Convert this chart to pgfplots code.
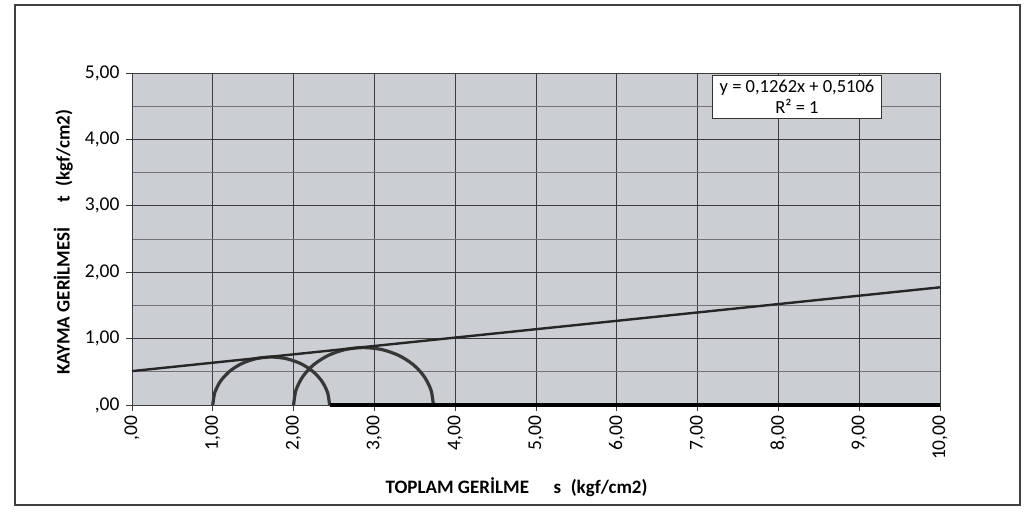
\documentclass[border=0pt]{standalone}
\usepackage{fontspec}
\setmainfont{Carlito}
\usepackage{pgfplots}
\pgfplotsset{compat=1.18}
\definecolor{bgplot}{RGB}{203,207,212}
\definecolor{gridmaj}{RGB}{60,60,60}
\definecolor{gridmin}{RGB}{115,115,115}
\definecolor{curve}{RGB}{55,55,55}
\begin{document}
\begin{tikzpicture}
\path[use as bounding box] (0pt,0pt) rectangle (1025pt,-515pt);
\draw[line width=1.2pt, black!75] (15pt,-5pt) rectangle (1020pt,-505pt);
\begin{axis}[
  at={(132pt,-405pt)}, anchor=south west,
  scale only axis, width=808pt, height=332pt,
  xmin=0, xmax=10, ymin=0, ymax=5,
  clip=false,
  axis background/.style={fill=bgplot},
  axis line style={gridmaj, line width=0.9pt},
  xtick={0,1,2,3,4,5,6,7,8,9,10},
  xticklabels={{,00},{1,00},{2,00},{3,00},{4,00},{5,00},{6,00},{7,00},{8,00},{9,00},{10,00}},
  ytick={0,1,2,3,4,5},
  yticklabels={{,00},{1,00},{2,00},{3,00},{4,00},{5,00}},
  minor ytick={0.5,1.5,2.5,3.5,4.5},
  xtick pos=bottom, ytick pos=left,
  tick align=outside,
  major tick length=6pt, minor tick length=0pt,
  tick style={gridmaj, line width=0.9pt},
  grid=both,
  major grid style={gridmaj, line width=1pt},
  minor grid style={gridmin, line width=0.7pt},
  x tick label style={rotate=90, anchor=east, yshift=0pt, xshift=-1pt, font=\fontsize{19.5}{19.5}\selectfont},
  y tick label style={xshift=-3pt, font=\fontsize{19.5}{19.5}\selectfont},
  xlabel={\bfseries TOPLAM GERİLME\hspace{1.3em}s\hspace{0.5em}(kgf/cm2)},
  xlabel style={at={(axis description cs:0.476,-0.247)}, anchor=center, font=\fontsize{19}{22}\selectfont},
  ylabel={\bfseries KAYMA GERİLMESİ\hspace{1.3em}t\hspace{0.5em}(kgf/cm2)},
  ylabel style={at={(axis description cs:-0.085,0.49)}, anchor=center, font=\fontsize{19}{22}\selectfont},
]
\addplot[curve, line width=3.2pt, smooth] coordinates {
 (1.0000,0) (1.0246,0.1870) (1.0968,0.3613) (1.2116,0.5110) (1.3613,0.6258)
 (1.5356,0.6980) (1.7226,0.7226) (1.9096,0.6980) (2.0839,0.6258) (2.2336,0.5110)
 (2.3484,0.3613) (2.4206,0.1870) (2.4452,0)};
\addplot[curve, line width=3.2pt, smooth] coordinates {
 (2.0000,0) (2.0295,0.2239) (2.1159,0.4325) (2.2534,0.6116) (2.4325,0.7491)
 (2.6411,0.8355) (2.8650,0.8650) (3.0889,0.8355) (3.2975,0.7491) (3.4766,0.6116)
 (3.6141,0.4325) (3.7005,0.2239) (3.7300,0)};
\addplot[black, line width=4pt] coordinates {(2.4452,0) (10,0)};
\addplot[black!85, line width=2.4pt] coordinates {(0,0.5106) (10,1.7726)};
\node[draw=black!80, fill=white, line width=0.9pt, align=center,
      font=\fontsize{18.5}{21}\selectfont, inner xsep=7pt, inner ysep=5pt]
  at (axis cs:8.23,4.64) {y = 0,1262x + 0,5106\\R² = 1};
\end{axis}
\end{tikzpicture}
\end{document}
